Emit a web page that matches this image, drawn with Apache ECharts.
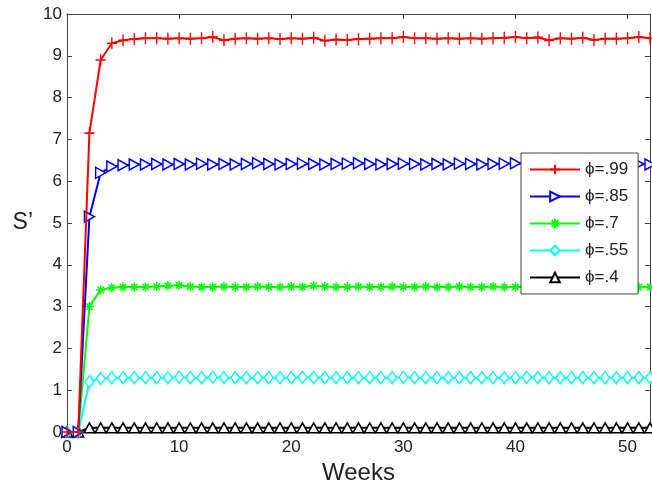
<html>
<head>
<meta charset="utf-8">
<title>S' vs weeks</title>
<script src="https://cdn.jsdelivr.net/npm/echarts@6/dist/echarts.min.js"></script>
<style>
  body { margin: 0; background: #fff; }
  #chart { width: 652px; height: 486px; }
</style>
</head>
<body>
<div id="chart"></div>
<script>
// weeks 0..52
var weeks = [0,1,2,3,4,5,6,7,8,9,10,11,12,13,14,15,16,17,18,19,20,21,22,23,24,25,26,
  27,28,29,30,31,32,33,34,35,36,37,38,39,40,41,42,43,44,45,46,47,48,49,50,51,52];

var phi99 = [0,0,7.15,8.9,9.3,9.37,9.4,9.42,9.42,9.41,9.42,9.41,9.42,9.45,9.37,9.41,9.42,9.41,
  9.42,9.40,9.42,9.41,9.43,9.36,9.39,9.38,9.40,9.41,9.42,9.42,9.45,9.42,9.42,9.41,9.42,9.41,
  9.42,9.41,9.42,9.43,9.45,9.42,9.44,9.37,9.42,9.41,9.43,9.38,9.41,9.41,9.42,9.45,9.42];
var phi85 = [0,0,5.15,6.2,6.35,6.38,6.4,6.4,6.41,6.4,6.41,6.4,6.42,6.4,6.41,6.4,6.41,6.43,
  6.41,6.4,6.41,6.42,6.41,6.4,6.41,6.42,6.43,6.41,6.4,6.41,6.42,6.41,6.4,6.41,6.4,6.42,
  6.41,6.4,6.41,6.42,6.43,6.41,6.4,6.41,6.42,6.41,6.4,6.41,6.4,6.41,6.42,6.41,6.4];
var phi7 = [0,0,3.0,3.4,3.45,3.47,3.47,3.47,3.48,3.5,3.51,3.48,3.47,3.47,3.48,3.47,3.47,3.48,
  3.47,3.47,3.48,3.47,3.5,3.48,3.47,3.47,3.48,3.47,3.47,3.48,3.47,3.47,3.48,3.47,3.47,3.48,
  3.47,3.47,3.48,3.47,3.47,3.48,3.47,3.47,3.48,3.47,3.47,3.48,3.47,3.47,3.48,3.47,3.47];
var phi55 = [0,0,1.2,1.28,1.3,1.3,1.3,1.3,1.3,1.3,1.31,1.3,1.3,1.31,1.3,1.3,1.3,1.3,
  1.3,1.3,1.3,1.31,1.3,1.3,1.3,1.3,1.3,1.3,1.3,1.3,1.31,1.3,1.3,1.3,1.3,1.3,
  1.3,1.3,1.3,1.3,1.3,1.31,1.3,1.3,1.3,1.3,1.3,1.3,1.3,1.3,1.3,1.3,1.3];
var phi4 = [0,0,0.1,0.1,0.1,0.1,0.1,0.1,0.1,0.1,0.1,0.1,0.1,0.1,0.1,0.1,0.1,0.1,
  0.1,0.1,0.1,0.1,0.1,0.1,0.1,0.1,0.1,0.1,0.1,0.1,0.1,0.1,0.1,0.1,0.1,0.1,
  0.1,0.1,0.1,0.1,0.1,0.1,0.1,0.1,0.1,0.1,0.1,0.1,0.1,0.1,0.1,0.1,0.1];

var names = ['ϕ=.99', 'ϕ=.85', 'ϕ=.7', 'ϕ=.55', 'ϕ=.4'];
var colors = ['#ff0000', '#0000ff', '#00ff00', '#00ffff', '#000000'];
var allData = [phi99, phi85, phi7, phi55, phi4];
var symbols = [
  'path://M0,5L10,5M5,0L5,10',                      // plus
  'path://M0,0L10,5L0,10Z',                          // right triangle
  'path://M0,5L10,5M5,0L5,10M1.5,1.5L8.5,8.5M8.5,1.5L1.5,8.5', // asterisk
  'diamond',
  'triangle'
];
var sizes = [[10, 12], [10, 11], [9, 9], [9, 12], [11, 10]];

var chart = echarts.init(document.getElementById('chart'));

var font = 'Liberation Sans, Arial, sans-serif';

var series = allData.map(function (vals, i) {
  return {
    name: names[i],
    type: 'line',
    data: weeks.map(function (w, k) { return [w, vals[k]]; }),
    symbol: symbols[i],
    symbolSize: sizes[i],
    showAllSymbol: true,
    lineStyle: { color: colors[i], width: 2 },
    itemStyle: { color: '#fff', borderColor: colors[i], borderWidth: 1.5 },
    emphasis: { disabled: true },
    z: 6 - i
  };
});

function tick() { return { show: true, inside: true, length: 5, lineStyle: { color: '#444' } }; }
function frame() { return { show: true, onZero: false, lineStyle: { color: '#444', width: 1 } }; }

chart.setOption({
  animation: false,
  backgroundColor: '#fff',
  grid: { left: 67, right: 2, top: 14, bottom: 54, outerBoundsMode: 'none' },
  legend: {
    orient: 'vertical',
    left: 521,
    top: 153,
    width: 122,
    z: 20,
    padding: [8, 10, 8, 8],
    itemWidth: 50,
    itemHeight: 12,
    itemGap: 10,
    backgroundColor: '#fff',
    borderColor: '#444',
    borderWidth: 1,
    textStyle: { fontFamily: font, fontSize: 17, color: '#222' },
    data: names
  },
  xAxis: [{
    type: 'value',
    min: 0, max: 52, interval: 10,
    name: 'Weeks',
    nameLocation: 'middle',
    nameGap: 25,
    nameTextStyle: { fontFamily: font, fontSize: 24, color: '#222' },
    axisLine: frame(),
    axisTick: tick(),
    splitLine: { show: false },
    axisLabel: {
      fontFamily: font, fontSize: 17, color: '#222', margin: 7,
      formatter: function (v) { return v % 10 === 0 ? String(v) : ''; }
    }
  }, {
    type: 'value', position: 'top',
    min: 0, max: 52, interval: 10,
    axisLine: frame(),
    axisTick: tick(),
    axisLabel: { show: false },
    splitLine: { show: false }
  }],
  yAxis: [{
    type: 'value',
    min: 0, max: 10, interval: 1,
    name: 'S’',
    nameLocation: 'middle',
    nameRotate: 0,
    nameGap: 34,
    nameTextStyle: { fontFamily: font, fontSize: 23, color: '#222' },
    axisLine: frame(),
    axisTick: tick(),
    splitLine: { show: false },
    axisLabel: { fontFamily: font, fontSize: 17, color: '#222', margin: 5 }
  }, {
    type: 'value', position: 'right',
    min: 0, max: 10, interval: 1,
    axisLine: frame(),
    axisTick: tick(),
    axisLabel: { show: false },
    splitLine: { show: false }
  }],
  series: series
});
</script>
</body>
</html>
